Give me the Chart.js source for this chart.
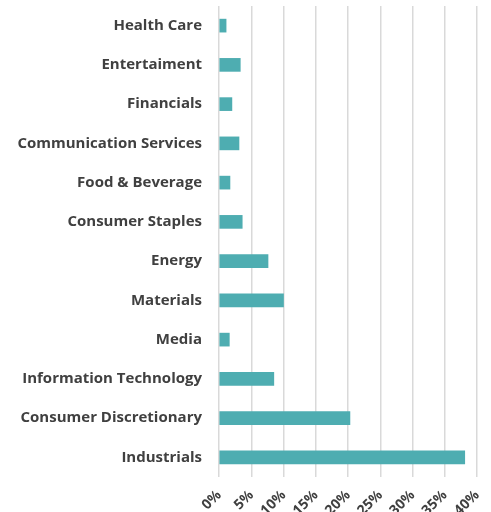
<!DOCTYPE html>
<html lang="en">
<head>
    <meta charset="UTF-8" />
    <title>Sector Weights</title>
    <script src="https://cdn.jsdelivr.net/npm/chart.js"></script>
    <style>
        html, body {
          margin: 0;
          padding: 0;
          background: #ffffff;
        }

        .chart-container {
          width: 491px;
          height: 512px;
        }
    </style>
</head>
<body>

<div class="chart-container">
    <canvas id="sectorChart"></canvas>
</div>

<script>
    const sectors = [
      'Health Care', 'Entertaiment', 'Financials', 'Communication Services',
      'Food & Beverage', 'Consumer Staples', 'Energy', 'Materials',
      'Media', 'Information Technology', 'Consumer Discretionary', 'Industrials'
    ];
    const weights = [1.1, 3.3, 2.0, 3.1, 1.7, 3.6, 7.6, 10.0, 1.6, 8.5, 20.3, 38.1];
    const xTicks = [0, 5, 10, 15, 20, 25, 30, 35, 40];

    const textColor = '#404040';

    const ctx = document.getElementById('sectorChart').getContext('2d');

    new Chart(ctx, {
      type: 'bar',
      data: {
        labels: sectors,
        datasets: [{
          data: weights,
          backgroundColor: '#4eadb1',
          borderWidth: 0,
          barThickness: 13
        }]
      },
      options: {
        indexAxis: 'y',
        responsive: true,
        maintainAspectRatio: false,
        animation: false,
        layout: {
          padding: { top: 6, right: 14, bottom: 0, left: 4 }
        },
        plugins: {
          legend: { display: false },
          tooltip: { enabled: false }
        },
        scales: {
          x: {
            min: 0,
            max: 40,
            afterBuildTicks: (scale) => {
              scale.ticks = xTicks.map(v => ({ value: v }));
            },
            afterFit: (scale) => {
              scale.height = 35;
              scale.paddingLeft = 0;
              scale.paddingRight = 0;
            },
            ticks: {
              color: textColor,
              font: { family: 'Open Sans', size: 14, weight: 'bold' },
              minRotation: 45,
              maxRotation: 45,
              padding: 10,
              callback: (v) => v + '%'
            },
            grid: { color: '#d9d9d9', lineWidth: 1.5, drawTicks: false },
            border: { display: false }
          },
          y: {
            afterFit: (scale) => {
              scale.width = 215;
              scale.paddingTop = 0;
              scale.paddingBottom = 0;
            },
            ticks: {
              color: textColor,
              font: { family: 'Open Sans', size: 15, weight: 'bold' },
              padding: 9
            },
            grid: { display: false },
            border: { display: false }
          }
        }
      }
    });
</script>

</body>
</html>
